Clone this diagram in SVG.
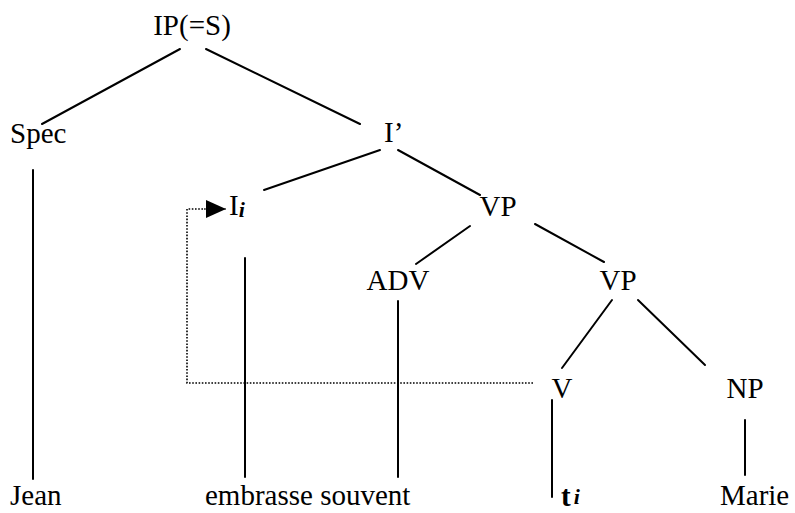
<svg xmlns="http://www.w3.org/2000/svg" width="795" height="513" viewBox="0 0 795 513">
  <style>
    .lbl { font-family: "Liberation Serif", "DejaVu Serif", "Times New Roman", serif; font-size: 29px; fill: #000; }
    .sub { font-style: italic; font-weight: bold; font-size: 22px; }
    .edge { stroke: #000; stroke-width: 2; fill: none; stroke-linecap: round; }
    .move { stroke: #000; stroke-width: 1.6; fill: none; stroke-dasharray: 1.6 1.6; }
  </style>
  <defs>
    <marker id="arrow" markerWidth="20" markerHeight="18" refX="20" refY="9" orient="auto" markerUnits="userSpaceOnUse">
      <path d="M0,0 L20,9 L0,18 Z" fill="#000"/>
    </marker>
  </defs>
  <rect width="795" height="513" fill="#fff"/>

  <!-- tree branches -->
  <g id="connectors">
    <line class="edge" x1="180" y1="49" x2="42" y2="124"/>
    <line class="edge" x1="206" y1="49" x2="360" y2="124"/>
    <line class="edge" x1="380" y1="150" x2="264" y2="190"/>
    <line class="edge" x1="398" y1="150" x2="480" y2="195"/>
    <line class="edge" x1="470" y1="226" x2="416" y2="264"/>
    <line class="edge" x1="535" y1="224" x2="604" y2="262"/>
    <line class="edge" x1="612" y1="300" x2="562" y2="368"/>
    <line class="edge" x1="638" y1="300" x2="705" y2="365"/>
    <line class="edge" x1="33" y1="170" x2="33" y2="479"/>
    <line class="edge" x1="245" y1="258" x2="245" y2="477"/>
    <line class="edge" x1="398" y1="301" x2="398" y2="477"/>
    <line class="edge" x1="552" y1="400" x2="552" y2="497"/>
    <line class="edge" x1="745" y1="420" x2="745" y2="475"/>
    <!-- head movement from V up to I -->
    <polyline class="move" points="533,383 187,383 187,209 205,209"/>
    <line x1="204" y1="209" x2="226" y2="209" stroke="#000" stroke-width="1" marker-end="url(#arrow)"/>
  </g>

  <g id="ip"><text class="lbl" x="192" y="35" text-anchor="middle">IP(=S)</text></g>
  <g id="spec"><text class="lbl" x="10" y="143">Spec</text></g>
  <g id="ibar"><text class="lbl" x="384" y="142">I’</text></g>
  <g id="i-head"><text class="lbl" x="229" y="215">I<tspan class="sub" dy="2">i</tspan></text></g>
  <g id="vp1"><text class="lbl" x="498" y="216" text-anchor="middle">VP</text></g>
  <g id="adv"><text class="lbl" x="398" y="290" text-anchor="middle">ADV</text></g>
  <g id="vp2"><text class="lbl" x="618" y="290" text-anchor="middle">VP</text></g>
  <g id="v"><text class="lbl" x="562" y="398" text-anchor="middle">V</text></g>
  <g id="np"><text class="lbl" x="745" y="398" text-anchor="middle">NP</text></g>

  <g id="jean"><text class="lbl" x="10" y="505">Jean</text></g>
  <g id="embrasse-souvent"><text class="lbl" x="205" y="505">embrasse souvent</text></g>
  <g id="trace"><text class="lbl" x="561" y="506" font-weight="bold" font-size="26">t<tspan class="sub" dx="3" dy="-2">i</tspan></text></g>
  <g id="marie"><text class="lbl" x="720" y="505">Marie</text></g>
</svg>
